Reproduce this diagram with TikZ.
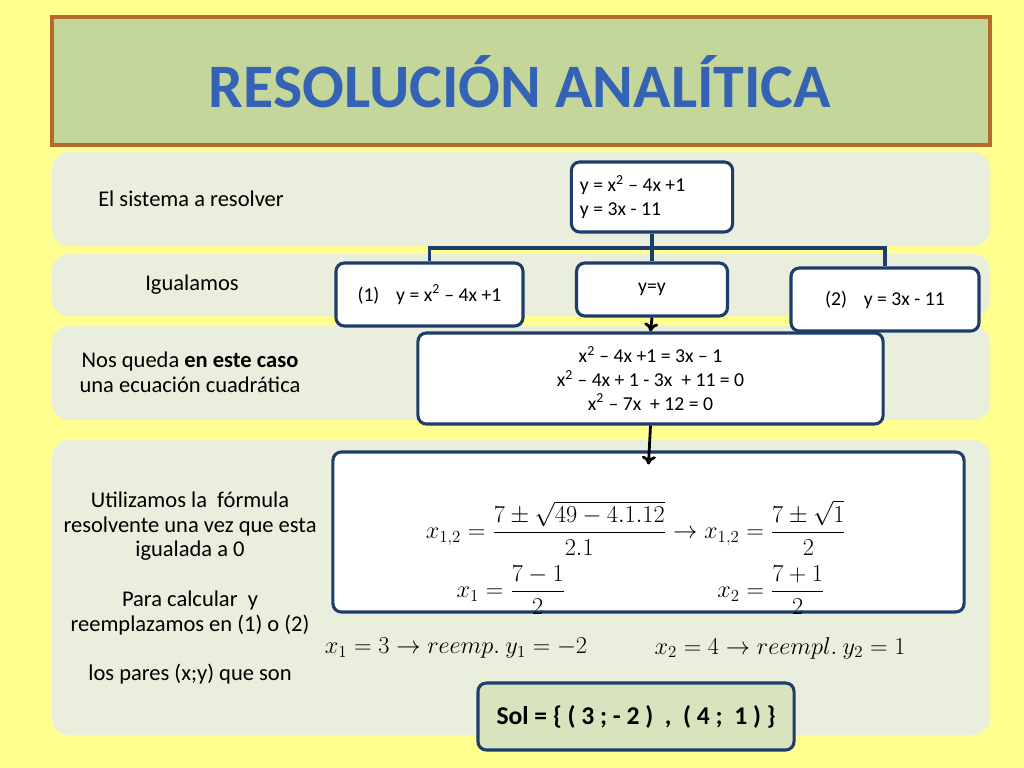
\documentclass[tikz,border=0pt]{standalone}
\usepackage{amsmath}
\usepackage{fontspec}
\setmainfont{Carlito}
\usetikzlibrary{arrows.meta}
\definecolor{bgyellow}{HTML}{FFFF8F}
\definecolor{bandgray}{HTML}{EAEEDC}
\definecolor{titlegreen}{HTML}{C5D69B}
\definecolor{titlebrown}{HTML}{B7682B}
\definecolor{boxblue}{HTML}{1F3D6B}
\definecolor{solgreen}{HTML}{D7E4BD}
\definecolor{titleblue}{HTML}{3463B5}
\tikzset{
  band/.style={fill=bandgray, rounded corners=12pt},
  box/.style={draw=boxblue, line width=2.2pt, fill=white, rounded corners=6pt,
    font=\fontsize{14}{16.8}\selectfont, align=center, inner sep=0pt},
  lbl/.style={align=center, font=\fontsize{16}{17.6}\selectfont},
  mth/.style={font=\fontsize{17}{20}\selectfont, inner sep=0pt},
  link/.style={draw=boxblue, line width=2.2pt},
  go/.style={-{To[length=6pt,width=10pt]}, line width=2pt, black}
}
\begin{document}
\begin{tikzpicture}[x=0.025cm, y=-0.025cm]
    \fill[bgyellow] (0,0) rectangle (1024,768);
    % title
    \draw[fill=titlegreen, draw=titlebrown, line width=2.2pt] (52,17) rectangle (990,145);
    \node[font=\fontsize{44}{48}\selectfont\bfseries, text=titleblue] (title) at (520,82) {RESOLUCIÓN ANALÍTICA};
    % bands
    \fill[band] (52,152) rectangle (990,246);
    \fill[band] (52,254) rectangle (990,316);
    \fill[band] (52,326) rectangle (990,420);
    \fill[band] (52,440) rectangle (990,735);
    \node[lbl] (l1) at (191,199) {El sistema a resolver};
    \node[lbl] (l2) at (192,285) {Igualamos};
    \node[lbl] (l3) at (190,372) {Nos queda \textbf{en este caso}\\una ecuación cuadrática};
    \node[lbl] (l4) at (190,588) {Utilizamos la~ fórmula\\resolvente una vez que esta\\igualada a 0\\[17.6pt]
      Para calcular~ y\\reemplazamos en (1) o (2)\\[17.6pt]los pares (x;y) que son};
    % boxes
    \node[box, align=flush left, text width=3.6cm, inner xsep=0.215cm, minimum height=1.75cm] (sys) at (652,197)
      {y = x\textsuperscript{2} – 4x +1\\y = 3x - 11};
    \node[box, minimum width=4.675cm, minimum height=1.575cm] (eq1) at (429.5,294.5) {(1)\hspace{0.85em}y = x\textsuperscript{2} – 4x +1};
    \node[box, minimum width=3.775cm, minimum height=1.325cm] (yy) at (652,289.5) {y=y};
    \node[box, minimum width=4.7cm, minimum height=1.575cm] (eq2) at (885,299.5) {(2)\hspace{0.85em}y = 3x - 11};
    \node[box, minimum width=11.625cm, minimum height=2.275cm] (quad) at (650.5,378.5)
      {x\textsuperscript{2} – 4x +1 = 3x – 1\\x\textsuperscript{2} – 4x + 1 - 3x~ + 11 = 0\\x\textsuperscript{2} – 7x~ + 12 = 0};
    \node[box, minimum width=15.775cm, minimum height=4cm] (form) at (648.5,532) {};
    \node[mth, font=\fontsize{16.5}{20}\selectfont] (f1) at (636,528) {$x_{1,2} = \dfrac{7 \pm \sqrt{49 - 4.1.12}}{2.1} \rightarrow x_{1,2} = \dfrac{7 \pm \sqrt{1}}{2}$};
    \node[mth, font=\fontsize{16.5}{20}\selectfont] (f2) at (511,590) {$x_1 = \dfrac{7-1}{2}$};
    \node[mth, font=\fontsize{16.5}{20}\selectfont] (f3) at (771,590) {$x_2 = \dfrac{7+1}{2}$};
    \node[mth] (r1) at (456,648) {$x_1 = 3 \rightarrow reemp.\ y_1 = -2$};
    \node[mth] (r2) at (780,648) {$x_2 = 4 \rightarrow reempl.\ y_2 = 1$};
    \node[box, fill=solgreen, minimum width=7.9cm, minimum height=1.675cm, font=\fontsize{18.2}{21}\selectfont\bfseries] (sol) at (636,716.5)
      {Sol = \{ ( 3 ; - 2 )~~,~~( 4 ;~~1 ) \}};
    % connectors
    \coordinate (bus) at (652,248);
    \draw[link] (sys.south) -- (bus) -- (yy.north);
    \draw[link] (bus) -| (eq1.north);
    \draw[link] (bus) -| (eq2.north);
    \draw[go] (yy.south) -- (quad.north);
    \draw[go] (quad.south) -- ([yshift=-0.35cm]form.north);
\end{tikzpicture}
\end{document}
